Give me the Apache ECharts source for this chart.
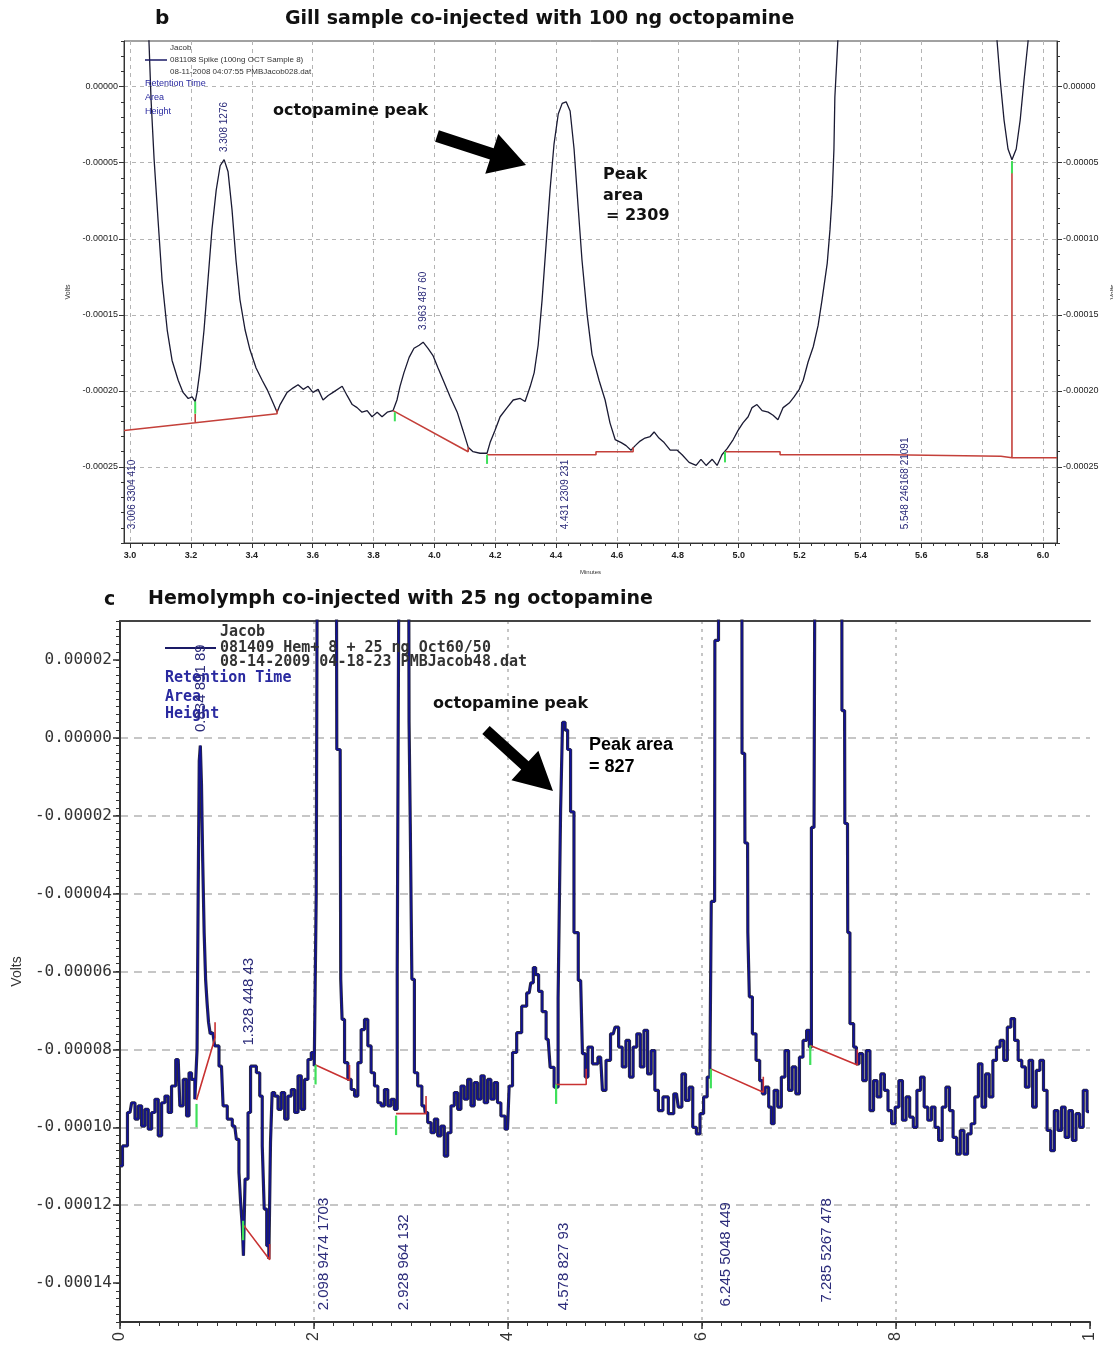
<!DOCTYPE html>
<html>
<head>
<meta charset="utf-8">
<title>Octopamine chromatograms</title>
<script src="https://cdn.jsdelivr.net/npm/echarts@6/dist/echarts.min.js"></script>
<style>
    html, body { margin: 0; padding: 0; background: #fff; }
    #chart { width: 1113px; height: 1349px; }
</style>
</head>
<body>
<div id="chart"></div>
<script>
// panel b : gill sample, x in minutes, y in microvolts
let traceB = [
    [3.040, 200], [3.062, 30], [3.069, -9], [3.079, -48], [3.092, -88], [3.105, -127], [3.122, -160], [3.138, -180],
    [3.158, -193], [3.174, -201], [3.191, -205], [3.204, -204], [3.214, -207], [3.220, -201], [3.230, -186], [3.243, -160],
    [3.256, -127], [3.269, -94], [3.283, -68], [3.296, -52], [3.309, -48], [3.322, -56], [3.335, -81], [3.348, -114],
    [3.361, -140], [3.378, -160], [3.394, -173], [3.414, -185], [3.434, -193], [3.450, -199], [3.470, -208], [3.483, -214],
    [3.493, -209], [3.516, -201], [3.536, -198], [3.552, -196], [3.569, -199], [3.585, -197], [3.601, -201], [3.618, -199],
    [3.634, -206], [3.651, -203], [3.667, -201], [3.697, -197], [3.713, -203], [3.730, -209], [3.746, -211], [3.762, -214],
    [3.779, -213], [3.795, -217], [3.812, -214], [3.828, -217], [3.845, -214], [3.864, -213], [3.877, -206], [3.887, -197],
    [3.900, -188], [3.917, -178], [3.933, -172], [3.950, -170], [3.963, -168], [3.979, -172], [3.996, -177], [4.012, -185],
    [4.029, -193], [4.052, -204], [4.075, -214], [4.094, -226], [4.111, -237], [4.127, -240], [4.150, -241], [4.173, -241],
    [4.183, -234], [4.199, -226], [4.216, -217], [4.239, -211], [4.259, -206], [4.282, -205], [4.298, -207], [4.315, -197],
    [4.328, -188], [4.341, -170], [4.354, -140], [4.367, -104], [4.380, -68], [4.393, -38], [4.407, -18], [4.420, -11],
    [4.433, -10], [4.446, -16], [4.459, -41], [4.472, -78], [4.485, -114], [4.502, -150], [4.518, -176], [4.541, -193],
    [4.561, -206], [4.577, -221], [4.594, -232], [4.614, -234], [4.630, -236], [4.646, -239], [4.660, -236], [4.676, -233],
    [4.692, -231], [4.709, -230], [4.722, -227], [4.738, -231], [4.755, -234], [4.775, -239], [4.798, -239], [4.814, -242],
    [4.837, -247], [4.860, -249], [4.876, -245], [4.893, -249], [4.913, -245], [4.929, -249], [4.945, -242], [4.962, -238],
    [4.982, -232], [4.998, -226], [5.014, -221], [5.031, -217], [5.044, -211], [5.060, -209], [5.077, -213], [5.097, -214],
    [5.113, -216], [5.129, -219], [5.146, -211], [5.166, -208], [5.182, -204], [5.199, -199], [5.212, -193], [5.228, -181],
    [5.245, -171], [5.261, -157], [5.274, -140], [5.291, -116], [5.300, -94], [5.307, -72], [5.313, -41], [5.316, -7],
    [5.326, 31], [5.336, 150], [5.600, 600], [5.839, 150], [5.849, 30], [5.859, 5], [5.872, -22], [5.885, -41],
    [5.898, -48], [5.912, -41], [5.925, -22], [5.938, 5], [5.951, 30], [5.961, 150]
];
// integration baselines (red) and peak start marks (green)
let redB = [
    [[2.98, -226], [3.214, -221], [3.483, -215], [3.483, -212]],
    [[3.214, -221], [3.214, -215]],
    [[3.864, -213], [4.111, -240], [4.111, -237]],
    [[4.173, -242], [4.531, -242], [4.531, -240], [4.653, -240], [4.653, -237]],
    [[4.955, -240], [5.136, -240], [5.136, -242], [5.499, -242], [5.499, -243], [5.862, -243], [5.862, -244], [5.898, -244], [5.898, -49]],
    [[5.898, -244], [6.046, -244]]
];
let greenB = [
    [[3.214, -215], [3.214, -207]],
    [[3.870, -214], [3.870, -220]],
    [[4.173, -242], [4.173, -248]],
    [[4.955, -240], [4.955, -247]],
    [[5.898, -49], [5.898, -57]]
];
let peakLabelsB = [
    {t: 3.006, text: '3.006 3304 410', at: -291},
    {t: 3.308, text: '3.308 1276', at: -43},
    {t: 3.963, text: '3.963 487 60', at: -160},
    {t: 4.431, text: '4.431 2309 231', at: -291},
    {t: 5.548, text: '5.548 246168 21091', at: -291}
];
let xTicksB = [3.0, 3.2, 3.4, 3.6, 3.8, 4.0, 4.2, 4.4, 4.6, 4.8, 5.0, 5.2, 5.4, 5.6, 5.8, 6.0];
let yTicksB = [0, -50, -100, -150, -200, -250];

// panel c : hemolymph sample
let traceC = [
    [0.000, -109.9], [0.051, -104.8], [0.103, -96.2], [0.137, -93.7], [0.172, -97.9], [0.206, -94.5], [0.240, -99.7],
    [0.274, -95.4], [0.309, -100.5], [0.343, -96.2], [0.377, -92.8], [0.412, -102.2], [0.446, -93.7], [0.480, -92.0],
    [0.514, -96.2], [0.549, -89.4], [0.600, -82.6], [0.634, -94.5], [0.669, -87.7], [0.703, -97.1], [0.720, -86.0],
    [0.754, -87.7], [0.789, -92.8], [0.800, -80], [0.812, -40], [0.822, -6], [0.834, -2], [0.846, -12], [0.860, -32],
    [0.875, -50], [0.890, -62], [0.905, -68], [0.920, -73], [0.940, -76], [0.957, -75.7], [0.995, -79.1], [1.046, -84.3],
    [1.080, -94.5], [1.132, -97.9], [1.183, -99.7], [1.217, -103.1], [1.235, -111.6], [1.252, -119.3], [1.269, -125.3],
    [1.276, -133.0], [1.303, -113.3], [1.337, -96.2], [1.355, -84.3], [1.389, -84.3], [1.423, -86.0], [1.458, -92.0],
    [1.475, -104.8], [1.499, -121.0], [1.526, -130.4], [1.543, -133.8], [1.560, -103.9], [1.577, -91.1], [1.612, -92.0],
    [1.646, -95.4], [1.680, -91.1], [1.715, -97.9], [1.749, -92.0], [1.783, -90.3], [1.818, -96.2], [1.852, -86.8],
    [1.886, -95.4], [1.920, -87.7], [1.955, -82.6], [1.989, -80.8], [2.016, -84.3],
    [2.030, -40], [2.040, 60], [2.100, 300], [2.230, 60], [2.240, -3], [2.270, -3], [2.281, -62.0], [2.298, -72.3],
    [2.332, -83.4], [2.366, -87.7], [2.401, -90.3], [2.435, -92.0], [2.469, -83.4], [2.503, -74.9], [2.538, -72.3],
    [2.572, -79.1], [2.606, -86.0], [2.641, -89.4], [2.675, -93.7], [2.709, -94.5], [2.743, -90.3], [2.778, -94.5],
    [2.812, -92.8], [2.846, -95.4],
    [2.870, -60], [2.885, 60], [2.930, 300], [2.975, 60], [2.985, 4], [3.000, -22], [3.018, -62.0], [3.052, -86.0],
    [3.086, -89.4], [3.138, -94.5], [3.155, -96.2], [3.189, -98.8], [3.224, -101.4], [3.258, -97.9], [3.292, -102.2],
    [3.326, -99.7], [3.361, -107.4], [3.395, -101.4], [3.429, -94.5], [3.464, -91.1], [3.498, -95.4], [3.532, -89.4],
    [3.567, -92.8], [3.601, -87.7], [3.635, -94.5], [3.669, -88.5], [3.704, -92.8], [3.738, -86.8], [3.772, -93.7],
    [3.807, -87.7], [3.841, -92.8], [3.875, -88.5], [3.909, -93.7], [3.944, -97.1], [3.995, -100.5], [4.029, -89.4],
    [4.064, -80.8], [4.115, -75.7], [4.167, -68.9], [4.218, -65.5], [4.252, -62.9], [4.270, -59.0], [4.300, -60.8],
    [4.331, -65.1], [4.372, -70.3], [4.414, -77.4], [4.455, -84.6], [4.496, -89.7],
    [4.537, -67], [4.547, -19], [4.578, 4], [4.599, 2], [4.630, -3], [4.660, -19], [4.700, -50], [4.749, -62.3],
    [4.786, -81.1], [4.806, -87.1], [4.843, -79.4], [4.898, -83.7], [4.955, -82.0], [4.992, -90.5], [5.029, -82.8],
    [5.085, -76.0], [5.122, -74.3], [5.159, -79.4], [5.197, -84.5], [5.234, -77.7], [5.271, -87.1], [5.309, -79.4],
    [5.346, -76.0], [5.383, -84.5], [5.420, -75.1], [5.458, -86.3], [5.495, -80.3], [5.532, -90.5], [5.569, -95.7],
    [5.625, -92.2], [5.681, -96.5], [5.737, -91.4], [5.774, -94.8], [5.811, -86.3], [5.849, -93.1], [5.886, -89.7],
    [5.923, -100.0], [5.961, -101.7], [5.998, -96.5], [6.035, -92.2], [6.072, -87.1], [6.091, -85.0],
    [6.100, -42], [6.130, -42], [6.135, 25], [6.170, 25], [6.175, 120], [6.300, 300], [6.410, 100], [6.415, -4],
    [6.440, -4], [6.445, -27], [6.470, -27], [6.475, -50], [6.501, -66.5], [6.538, -76.0], [6.576, -82.8], [6.613, -88.0],
    [6.632, -91.4], [6.669, -89.7], [6.706, -94.8], [6.725, -99.1], [6.762, -90.5], [6.799, -94.8], [6.837, -87.1],
    [6.874, -80.3], [6.911, -90.5], [6.948, -84.5], [6.986, -91.4], [7.023, -82.0], [7.060, -77.7], [7.097, -75.1],
    [7.116, -79.4],
    [7.140, -23], [7.170, -23], [7.175, 120], [7.300, 300], [7.440, 100], [7.445, 7], [7.470, 7], [7.475, -22],
    [7.500, -22], [7.505, -50], [7.545, -73.4], [7.582, -79.4], [7.601, -83.7], [7.638, -81.1], [7.675, -88.0],
    [7.713, -80.3], [7.750, -95.7], [7.787, -88.0], [7.824, -92.2], [7.862, -86.3], [7.899, -90.5], [7.936, -95.7],
    [7.973, -99.1], [8.011, -94.8], [8.048, -88.0], [8.085, -98.2], [8.122, -92.2], [8.160, -97.4], [8.197, -100.0],
    [8.234, -90.5], [8.272, -87.1], [8.309, -94.8], [8.346, -98.2], [8.384, -94.8], [8.421, -100.0], [8.458, -103.4],
    [8.495, -94.8], [8.533, -89.7], [8.570, -95.7], [8.607, -102.6], [8.644, -106.9], [8.682, -100.8], [8.719, -106.9],
    [8.756, -101.7], [8.793, -99.1], [8.831, -92.2], [8.868, -83.7], [8.905, -94.8], [8.943, -86.3], [8.980, -92.2],
    [9.017, -82.8], [9.055, -79.4], [9.092, -77.7], [9.129, -82.8], [9.166, -74.3], [9.204, -72.1], [9.241, -77.7],
    [9.278, -82.8], [9.315, -84.5], [9.353, -89.7], [9.390, -82.8], [9.427, -94.8], [9.465, -85.4], [9.502, -82.8],
    [9.539, -90.5], [9.576, -100.8], [9.614, -106.0], [9.651, -95.7], [9.688, -100.8], [9.725, -94.8], [9.763, -102.6],
    [9.800, -95.7], [9.837, -103.4], [9.874, -96.5], [9.912, -100.0], [9.949, -90.5], [9.990, -96.0]
];
let redC = [
    [[0.789, -93], [0.980, -77], [0.980, -73]],
    [[1.269, -125], [1.543, -134], [1.543, -130]],
    [[2.016, -84], [2.366, -88], [2.366, -84]],
    [[2.846, -96.5], [3.155, -96.5], [3.155, -92]],
    [[4.496, -89], [4.806, -89], [4.806, -85]],
    [[6.091, -85], [6.632, -91], [6.632, -87]],
    [[7.116, -79], [7.601, -84], [7.601, -80]]
];
let greenC = [
    [[0.789, -94], [0.789, -100]],
    [[1.269, -124], [1.269, -129]],
    [[2.016, -84], [2.016, -89]],
    [[2.846, -97], [2.846, -102]],
    [[4.496, -89], [4.496, -94]],
    [[6.091, -85], [6.091, -90]],
    [[7.116, -79], [7.116, -84]]
];
let peakLabelsC = [
    {t: 0.834, text: '0.834 891 89', at: 1.5},
    {t: 1.328, text: '1.328 448 43', at: -79},
    {t: 2.098, text: '2.098 9474 1703', at: -147},
    {t: 2.928, text: '2.928 964 132', at: -147},
    {t: 4.578, text: '4.578 827 93', at: -147},
    {t: 6.245, text: '6.245 5048 449', at: -146},
    {t: 7.285, text: '7.285 5267 478', at: -145}
];
let xTicksC = [0, 2, 4, 6, 8, 10];
let xLabelsC = ['0', '2', '4', '6', '8', '1'];
let yTicksC = [20, 0, -20, -40, -60, -80, -100, -120, -140];

// microvolts -> volts label
let fmtV = function (v) {
    return (v / 1e6).toFixed(5);
};

// positions of small ticks between the labelled ones
function steps(from, to, step) {
    let out = [];
    for (let i = 0; from + i * step <= to + 1e-9; i++) {
        out.push(Math.round((from + i * step) * 1000) / 1000);
    }
    return out;
}

function segSeries(list, color, width, xi, yi, z) {
    return list.map(function (d) {
        return {
            type: 'line', xAxisIndex: xi, yAxisIndex: yi, data: d,
            showSymbol: false, silent: true, z: z,
            lineStyle: {color: color, width: width}
        };
    });
}

function minorAxis(grid, min, max, values, len, position) {
    return {
        type: 'value', gridIndex: grid, min: min, max: max, position: position,
        axisLine: {show: false, onZero: false},
        axisLabel: {show: false},
        splitLine: {show: false},
        axisTick: {show: true, customValues: values, length: len, lineStyle: {color: '#333'}}
    };
}

let dash = {color: '#b4b4b4', type: [4, 4], width: 1};

let option = {
    backgroundColor: '#fff',
    animation: false,
    grid: [
        {left: 124, top: 41, width: 933, height: 502, show: true, borderColor: '#444', borderWidth: 1,
            containLabel: false, outerBoundsMode: 'none'},
        {left: 120, top: 621, width: 970, height: 701, containLabel: false, outerBoundsMode: 'none'}
    ],
    xAxis: [
        {
            type: 'value', gridIndex: 0, min: 2.98, max: 6.046, splitNumber: 15, position: 'bottom',
            axisLine: {onZero: false, lineStyle: {color: '#333'}},
            axisTick: {customValues: xTicksB, length: 5, lineStyle: {color: '#333'}},
            axisLabel: {
                customValues: xTicksB, fontSize: 9, fontWeight: 'bold', color: '#222', margin: 8,
                formatter: function (v) { return v.toFixed(1); }
            },
            splitLine: {show: true, lineStyle: dash},
            name: 'Minutes', nameLocation: 'middle', nameGap: 26,
            nameTextStyle: {fontSize: 6, color: '#333'}
        },
        minorAxis(0, 2.98, 6.046, steps(3.0, 6.04, 0.04), 3, 'bottom'),
        {
            type: 'value', gridIndex: 1, min: 0, max: 10, interval: 2, position: 'bottom',
            axisLine: {onZero: false, lineStyle: {color: '#333', width: 2}},
            axisTick: {customValues: xTicksC, length: 7, lineStyle: {color: '#333', width: 1.5}},
            axisLabel: {
                customValues: xTicksC, rotate: 90, fontSize: 16, color: '#333', margin: 10,
                formatter: function (v) { return xLabelsC[xTicksC.indexOf(v)]; }
            },
            splitLine: {show: true, showMinLine: false, showMaxLine: false, lineStyle: {color: '#b4b4b4', type: [3, 5], width: 1.5}}
        },
        minorAxis(1, 0, 10, steps(0, 10, 0.2), 4, 'bottom'),
        {
            type: 'value', gridIndex: 1, min: 0, max: 10, position: 'top',
            axisLine: {onZero: false, lineStyle: {color: '#444', width: 2}},
            axisTick: {show: false}, axisLabel: {show: false}, splitLine: {show: false}
        }
    ],
    yAxis: [
        {
            type: 'value', gridIndex: 0, min: -300, max: 30, interval: 50, position: 'left',
            axisLine: {show: true, onZero: false, lineStyle: {color: '#333'}},
            axisTick: {customValues: yTicksB, length: 5, lineStyle: {color: '#333'}},
            axisLabel: {customValues: yTicksB, formatter: fmtV, fontSize: 9, color: '#222', margin: 6},
            splitLine: {show: true, lineStyle: dash},
            name: 'Volts', nameLocation: 'middle', nameGap: 46,
            nameTextStyle: {fontSize: 7, color: '#333'}
        },
        {
            type: 'value', gridIndex: 0, min: -300, max: 30, interval: 50, position: 'right',
            axisLine: {show: true, onZero: false, lineStyle: {color: '#333'}},
            axisTick: {customValues: yTicksB, length: 5, lineStyle: {color: '#333'}},
            axisLabel: {customValues: yTicksB, formatter: fmtV, fontSize: 9, color: '#222', margin: 6},
            splitLine: {show: false},
            name: 'Volts', nameLocation: 'middle', nameGap: 40,
            nameTextStyle: {fontSize: 7, color: '#333'}
        },
        minorAxis(0, -300, 30, steps(-300, 30, 10), 3, 'left'),
        minorAxis(0, -300, 30, steps(-300, 30, 10), 3, 'right'),
        {
            type: 'value', gridIndex: 1, min: -150, max: 30, splitNumber: 9, position: 'left',
            axisLine: {show: true, onZero: false, lineStyle: {color: '#333', width: 2}},
            axisTick: {customValues: yTicksC, length: 7, lineStyle: {color: '#333', width: 1.5}},
            axisLabel: {
                customValues: yTicksC, formatter: fmtV, fontSize: 16,
                fontFamily: 'DejaVu Sans Mono', color: '#333', margin: 8
            },
            splitLine: {show: true, showMinLine: false, showMaxLine: false, lineStyle: {color: '#b4b4b4', type: [8, 6], width: 1.5}},
            name: 'Volts', nameLocation: 'middle', nameGap: 92,
            nameTextStyle: {fontSize: 14, color: '#333'}
        },
        minorAxis(1, -150, 30, steps(-150, 30, 2), 4, 'left')
    ],
    series: [].concat(
        [{
            type: 'line', xAxisIndex: 0, yAxisIndex: 0, data: traceB,
            showSymbol: false, silent: true, z: 3,
            lineStyle: {color: '#1a1a33', width: 1.3}
        }],
        segSeries(redB, '#c4403a', 1.6, 0, 0, 4),
        segSeries(greenB, '#3ee05a', 2, 0, 0, 5),
        [{
            type: 'line', xAxisIndex: 2, yAxisIndex: 4, data: traceC, step: 'middle',
            showSymbol: false, silent: true, z: 3,
            lineStyle: {color: '#2a2a40', width: 3.2}
        }, {
            type: 'line', xAxisIndex: 2, yAxisIndex: 4, data: traceC, step: 'middle',
            showSymbol: false, silent: true, z: 4,
            lineStyle: {color: '#10109a', width: 1.5}
        }],
        segSeries(redC, '#c83232', 1.6, 2, 4, 5),
        segSeries(greenC, '#3ee05a', 2.2, 2, 4, 6)
    )
};

function txt(x, y, text, font, fill, rotation) {
    return {
        type: 'text', x: x, y: y, rotation: rotation || 0, z: 20, silent: true,
        style: {
            text: text, font: font, fill: fill,
            textAlign: 'left', textVerticalAlign: 'middle', align: 'left', verticalAlign: 'middle'
        }
    };
}

function line(x1, y1, x2, y2, color, width) {
    return {
        type: 'line', z: 20, silent: true,
        shape: {x1: x1, y1: y1, x2: x2, y2: y2},
        style: {stroke: color, lineWidth: width}
    };
}

// thick filled arrow from tail to tip
function arrow(x1, y1, x2, y2, w, headLen, headHalf) {
    let dx = x2 - x1, dy = y2 - y1, len = Math.sqrt(dx * dx + dy * dy);
    let ux = dx / len, uy = dy / len, nx = -uy, ny = ux;
    let bx = x2 - ux * headLen, by = y2 - uy * headLen;
    return {
        type: 'polygon', z: 20, silent: true,
        shape: {
            points: [
                [x1 + nx * w / 2, y1 + ny * w / 2], [bx + nx * w / 2, by + ny * w / 2],
                [bx + nx * headHalf, by + ny * headHalf], [x2, y2],
                [bx - nx * headHalf, by - ny * headHalf], [bx - nx * w / 2, by - ny * w / 2],
                [x1 - nx * w / 2, y1 - ny * w / 2]
            ]
        },
        style: {fill: '#000'}
    };
}

let chart = echarts.init(document.getElementById('chart'), null, {renderer: 'canvas'});
chart.setOption(option);

let titleFont = 'bold 19px "DejaVu Sans"';
let noteFont = 'bold 16px "DejaVu Sans"';
let graphics = [
    txt(155, 19, 'b', 'bold 20px "DejaVu Sans"', '#111'),
    txt(285, 19, 'Gill sample co-injected with 100 ng octopamine', titleFont, '#111'),
    txt(104, 600, 'c', 'bold 19px "DejaVu Sans"', '#111'),
    txt(148, 599, 'Hemolymph co-injected with 25 ng octopamine', titleFont, '#111'),

    // panel b legend block
    txt(170, 48, 'Jacob', '8px "Liberation Sans"', '#333'),
    line(145, 60, 167, 60, '#1a1a66', 1.5),
    txt(170, 60, '081108 Spike (100ng OCT Sample 8)', '8px "Liberation Sans"', '#333'),
    txt(170, 72, '08-11-2008 04:07:55 PMBJacob028.dat', '8px "Liberation Sans"', '#333'),
    txt(145, 84, 'Retention Time', '9px "Liberation Sans"', '#2a2aa0'),
    txt(145, 98, 'Area', '9px "Liberation Sans"', '#2a2aa0'),
    txt(145, 112, 'Height', '9px "Liberation Sans"', '#2a2aa0'),

    // panel b notes
    txt(273, 111, 'octopamine peak', noteFont, '#111'),
    arrow(437, 136, 526, 165, 12, 36, 21),
    txt(603, 175, 'Peak', noteFont, '#111'),
    txt(603, 196, 'area', noteFont, '#111'),
    txt(606, 216, '= 2309', noteFont, '#111'),

    // panel c legend block
    txt(220, 632, 'Jacob', 'bold 15px "DejaVu Sans Mono"', '#333'),
    line(165, 648, 216, 648, '#1a1a66', 2),
    txt(220, 648, '081409 Hem+ 8 + 25 ng Oct60/50', 'bold 15px "DejaVu Sans Mono"', '#333'),
    txt(220, 662, '08-14-2009 04-18-23 PMBJacob48.dat', 'bold 15px "DejaVu Sans Mono"', '#333'),
    txt(165, 678, 'Retention Time', 'bold 15px "DejaVu Sans Mono"', '#2a2aa0'),
    txt(165, 697, 'Area', 'bold 15px "DejaVu Sans Mono"', '#2a2aa0'),
    txt(165, 714, 'Height', 'bold 15px "DejaVu Sans Mono"', '#2a2aa0'),

    // panel c notes
    txt(433, 704, 'octopamine peak', noteFont, '#111'),
    arrow(486, 730, 553, 791, 11, 38, 20),
    txt(589, 745, 'Peak area', 'bold 18px "Liberation Sans"', '#000'),
    txt(589, 767, '= 827', 'bold 18px "Liberation Sans"', '#000')
];

// rotated retention time / area / height labels, anchored on the axes
peakLabelsB.forEach(function (p) {
    let pt = chart.convertToPixel({xAxisIndex: 0, yAxisIndex: 0}, [p.t, p.at]);
    graphics.push(txt(pt[0], pt[1], p.text, '10px "Liberation Sans"', '#2b2b7a', Math.PI / 2));
});
peakLabelsC.forEach(function (p) {
    let pt = chart.convertToPixel({xAxisIndex: 2, yAxisIndex: 4}, [p.t, p.at]);
    graphics.push(txt(pt[0], pt[1], p.text, '15px "Liberation Sans"', '#2b2b7a', Math.PI / 2));
});

chart.setOption({graphic: graphics});
</script>
</body>
</html>
